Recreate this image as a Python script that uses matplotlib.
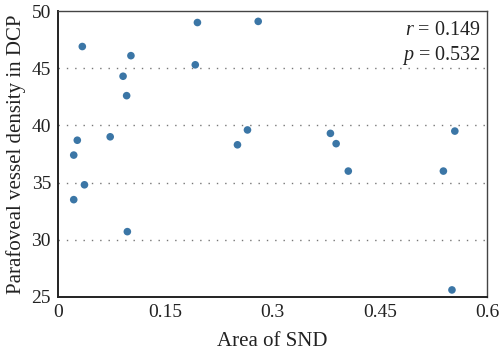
import numpy as np
import matplotlib.pyplot as plt

# Area of SND vs parafoveal vessel density (DCP)
area_snd = [0.034, 0.195, 0.102, 0.192, 0.091, 0.096, 0.027, 0.022, 0.073,
            0.251, 0.265, 0.280, 0.381, 0.389, 0.406, 0.539, 0.555,
            0.037, 0.022, 0.097, 0.551]
vessel_density = [46.9, 49.0, 46.1, 45.3, 44.3, 42.6, 38.7, 37.4, 39.0,
                  38.3, 39.6, 49.1, 39.3, 38.4, 36.0, 36.0, 39.5,
                  34.8, 33.5, 30.7, 25.6]
x_ticks = [0, 0.15, 0.3, 0.45, 0.6]
x_tick_labels = ['0', '0.15', '0.3', '0.45', '0.6']
y_ticks = [25, 30, 35, 40, 45, 50]
grid_levels = [30, 35, 40, 45]

plt.rcParams['font.family'] = ['Liberation Serif', 'DejaVu Serif']
plt.rcParams['mathtext.fontset'] = 'custom'
plt.rcParams['mathtext.rm'] = 'Liberation Serif'
plt.rcParams['mathtext.it'] = 'Liberation Serif:italic'
text_color = '#222222'

fig = plt.figure(figsize=(5, 3.58), dpi=100)
ax = fig.add_axes([0.116, 0.171, 0.858, 0.798])

for lvl in grid_levels:
    ax.axhline(lvl, color='#777777', linestyle=(0, (1, 5)), linewidth=1.0, zorder=0)

ax.scatter(area_snd, vessel_density, s=30, color='#3b76a6', edgecolors='none', zorder=3)

ax.set_xlim(0, 0.6)
ax.set_ylim(25, 50)
ax.set_xticks(x_ticks)
ax.set_xticklabels(x_tick_labels)
ax.set_yticks(y_ticks)
ax.tick_params(length=0, labelsize=14, colors=text_color, pad=5)

for side in ['left', 'bottom']:
    ax.spines[side].set_linewidth(1.4)
    ax.spines[side].set_color('#222222')
for side in ['top', 'right']:
    ax.spines[side].set_linewidth(1.0)
    ax.spines[side].set_color('#444444')

ax.set_xlabel('Area of SND', fontsize=15, color=text_color, labelpad=8)
ax.set_ylabel('Parafoveal vessel density in DCP', fontsize=15, color=text_color, labelpad=4)

ax.text(0.985, 0.965, r'$r$ = 0.149', transform=ax.transAxes, ha='right', va='top',
        fontsize=14.5, color=text_color)
ax.text(0.985, 0.885, r'$p$ = 0.532', transform=ax.transAxes, ha='right', va='top',
        fontsize=14.5, color=text_color)

fig.savefig('out.png', dpi=100)
